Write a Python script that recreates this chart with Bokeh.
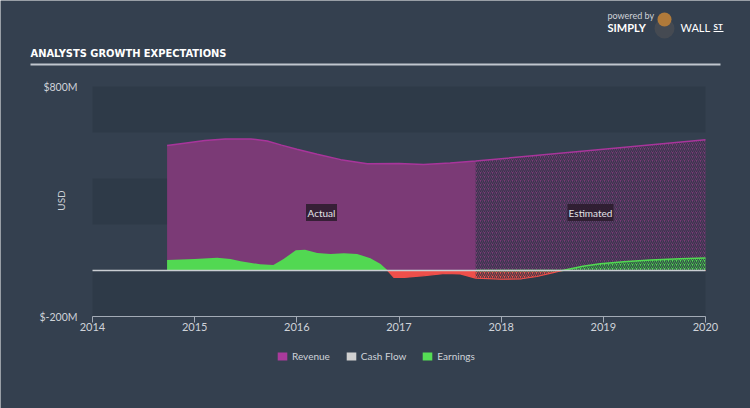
import numpy as np
from bokeh.plotting import figure
from bokeh.models import (BoxAnnotation, FixedTicker, Range1d, Label,
                          PrintfTickFormatter, Legend, LegendItem)
from bokeh.core.properties import value
from bokeh.embed import file_html
from bokeh.resources import INLINE

# ---------------- data ----------------
rev_years = [2014.73, 2014.9, 2015.1, 2015.3, 2015.55, 2015.71, 2015.85, 2016.0,
             2016.2, 2016.43, 2016.69, 2017.0, 2017.24, 2017.5, 2017.75,
             2018.0, 2019.0, 2020.0]
rev_vals = [543, 553, 565, 572, 572, 563, 545, 527,
            505, 482, 464, 465, 461, 467, 476,
            486, 527, 568]

earn_years = [2014.73, 2015.0, 2015.22, 2015.35, 2015.45, 2015.64, 2015.77, 2015.87,
              2015.99, 2016.08, 2016.2, 2016.33, 2016.46, 2016.59, 2016.72, 2016.82,
              2016.89, 2016.95, 2017.05, 2017.25, 2017.45, 2017.6, 2017.75, 2018.0,
              2018.2, 2018.35, 2018.5, 2018.6, 2018.8, 2018.97, 2019.2, 2019.46,
              2019.75, 2020.0]
earn_vals = [46, 50, 55, 50, 40, 27, 24, 50,
             88, 90, 76, 72, 75, 72, 53, 28,
             0, -30, -30, -22, -13, -15, -33, -38,
             -36, -26, -10, 0, 18, 29, 38, 46,
             51, 54]

estimate_start = 2017.75
x_ticks = [2014, 2015, 2016, 2017, 2018, 2019, 2020]
y_ticks = [-200, 800]
bands = [(-200, 0), (200, 400), (600, 800)]
legend_names = ["Revenue", "Cash Flow", "Earnings"]
legend_colors = ["#a93a9b", "#d0d0d0", "#55dd55"]

# ---------------- colours ----------------
BG = "#34404f"
BAND = "#2e3a48"
REV_FILL = "#7b3a76"
REV_LINE = "#a8359b"
EARN_G = "#52d852"
EARN_R = "#ef4f4a"
TXT = "#cfd3d9"
HATCH = "#2c3545"
FONT = "Lato"

W, H = 750, 408
# layout: the plotting area spans page px 92..705 (x) and 86..316 (y)
PL, PR, PT, PB = 92, 705, 86, 316
xmin, xmax = x_ticks[0], x_ticks[-1]
ymin, ymax = y_ticks[0], y_ticks[-1]
sx = (PR - PL) / (xmax - xmin)
sy = (PB - PT) / (ymax - ymin)

def dx(px):
    return xmin + (px - PL) / sx

def dy(py):
    return ymin + (PB - py) / sy

p = figure(width=W, height=H,
           x_range=Range1d(dx(0), dx(W)), y_range=Range1d(dy(H), dy(0)),
           output_backend="svg", toolbar_location=None, min_border=0)
p.background_fill_color = BG
p.border_fill_color = BG
p.outline_line_color = None
p.grid.visible = False

for b0, b1 in bands:
    p.add_layout(BoxAnnotation(bottom=b0, top=b1, left=xmin, right=xmax,
                               fill_color=BAND, fill_alpha=1,
                               line_color=None, level="underlay"))

rx = np.array(rev_years); rv = np.array(rev_vals, dtype=float)
ex = np.array(earn_years); ev = np.array(earn_vals, dtype=float)

p.varea(x=rx, y1=0, y2=rv, fill_color=REV_FILL, fill_alpha=1)
m_est = rx >= estimate_start
p.varea(x=rx[m_est], y1=0, y2=rv[m_est], fill_alpha=0,
        hatch_pattern="/", hatch_color=HATCH, hatch_alpha=0.85,
        hatch_scale=4, hatch_weight=1.3)
p.line(rx, rv, line_color=REV_LINE, line_width=1.5)

pos = np.maximum(ev, 0); neg = np.minimum(ev, 0)
p.varea(x=ex, y1=0, y2=pos, fill_color=EARN_G)
p.varea(x=ex, y1=0, y2=neg, fill_color=EARN_R)
e_est = ex >= estimate_start
p.varea(x=ex[e_est], y1=0, y2=ev[e_est], fill_alpha=0,
        hatch_pattern="/", hatch_color=HATCH, hatch_alpha=0.85,
        hatch_scale=4, hatch_weight=1.3)
p.line(ex[e_est], pos[e_est], line_color=EARN_G, line_width=1.5)
p.line(ex, neg, line_color=EARN_R, line_width=1.2)

# zero line
p.segment(x0=[xmin], y0=[0], x1=[xmax], y1=[0], line_color="#c9cdd2", line_width=1.5)

# Actual / Estimated tags
lab_x = [dx(321), dx(590)]
lab_y = [dy(212), dy(212)]
p.rect(x=lab_x, y=lab_y, width=[31 / sx, 46 / sx], height=[17 / sy, 17 / sy],
       fill_color="#2a1b2c", fill_alpha=0.85, line_color=None)
p.text(x=lab_x, y=lab_y, text=["Actual", "Estimated"], text_font=value(FONT),
       text_font_size="10px", text_color="#e4e4e8", text_align="center",
       text_baseline="middle")

# axes (fixed inside the full-canvas frame)
p.xaxis.fixed_location = ymin
p.xaxis.bounds = (xmin, xmax)
p.xaxis.ticker = FixedTicker(ticks=x_ticks)
p.xaxis.axis_line_color = "#a3abb6"
p.xaxis.major_tick_line_color = "#a3abb6"
p.xaxis.major_tick_out = 6
p.xaxis.major_tick_in = 0
p.xaxis.minor_tick_line_color = None
p.xaxis.major_label_standoff = 0
p.xaxis.major_label_text_color = TXT
p.xaxis.major_label_text_font = FONT
p.xaxis.major_label_text_font_size = "11px"

p.yaxis.fixed_location = xmin
p.yaxis.bounds = (ymin, ymax)
p.yaxis.ticker = FixedTicker(ticks=y_ticks)
p.yaxis.formatter = PrintfTickFormatter(format="$%dM")
p.yaxis.axis_line_color = None
p.yaxis.major_tick_line_color = None
p.yaxis.minor_tick_line_color = None
p.yaxis.major_label_standoff = 9
p.yaxis.major_label_text_color = TXT
p.yaxis.major_label_text_font = FONT
p.yaxis.major_label_text_font_size = "10.5px"

p.add_layout(Label(x=dx(60), y=dy(200), text="USD", angle=np.pi / 2, text_font=FONT,
                   text_font_size="10px", text_color=TXT, text_align="center",
                   text_baseline="middle"))

# header
p.add_layout(Label(x=dx(30), y=dy(53), text="ANALYSTS GROWTH EXPECTATIONS",
                   text_font="DejaVu Sans Condensed", text_font_style="bold",
                   text_font_size="11px", text_color="#ffffff", text_baseline="middle"))
p.segment(x0=[dx(30)], y0=[dy(64)], x1=[dx(720)], y1=[dy(64)],
          line_color="#c0c6ce", line_width=2)
p.add_layout(Label(x=dx(607), y=dy(15), text="powered by", text_font=FONT,
                   text_font_size="9px", text_color=TXT, text_baseline="middle"))
p.add_layout(Label(x=dx(607), y=dy(27), text="SIMPLY", text_font=FONT,
                   text_font_style="bold", text_font_size="11px", text_color="#ffffff",
                   text_baseline="middle"))
p.add_layout(Label(x=dx(680), y=dy(27), text="WALL", text_font=FONT,
                   text_font_size="11px", text_color="#ffffff", text_baseline="middle"))
p.add_layout(Label(x=dx(713), y=dy(26), text="ST", text_font=FONT,
                   text_font_style="bold", text_font_size="8px", text_color="#ffffff",
                   text_baseline="middle"))
p.segment(x0=[dx(713)], y0=[dy(31)], x1=[dx(723)], y1=[dy(31)],
          line_color="#ffffff", line_width=1)
p.scatter(x=[dx(664)], y=[dy(28)], size=20, marker="circle",
          fill_color="#454a52", line_color=None)
p.scatter(x=[dx(664)], y=[dy(19)], size=14, marker="circle",
          fill_color="#b07a3a", line_color=None)

# legend (proxy renderers holding a single NaN box so nothing is drawn in the plot)
items = []
for n, c in zip(legend_names, legend_colors):
    r = p.quad(left=[np.nan], right=[np.nan], top=[np.nan], bottom=[np.nan],
               fill_color=c, line_color=None)
    items.append(LegendItem(label=n, renderers=[r]))
leg = Legend(items=items, orientation="horizontal", location=(276, H - 362),
             background_fill_alpha=0, border_line_color=None, padding=0, margin=0,
             glyph_width=12, glyph_height=10, label_standoff=4, spacing=15,
             label_text_color=TXT, label_text_font=FONT, label_text_font_size="10px",
             label_height=10)
p.add_layout(leg)

html = file_html(p, INLINE)
html = html.replace("<body>", '<body style="margin:0;background:%s">' % BG, 1)
open("out.html", "w").write(html)
